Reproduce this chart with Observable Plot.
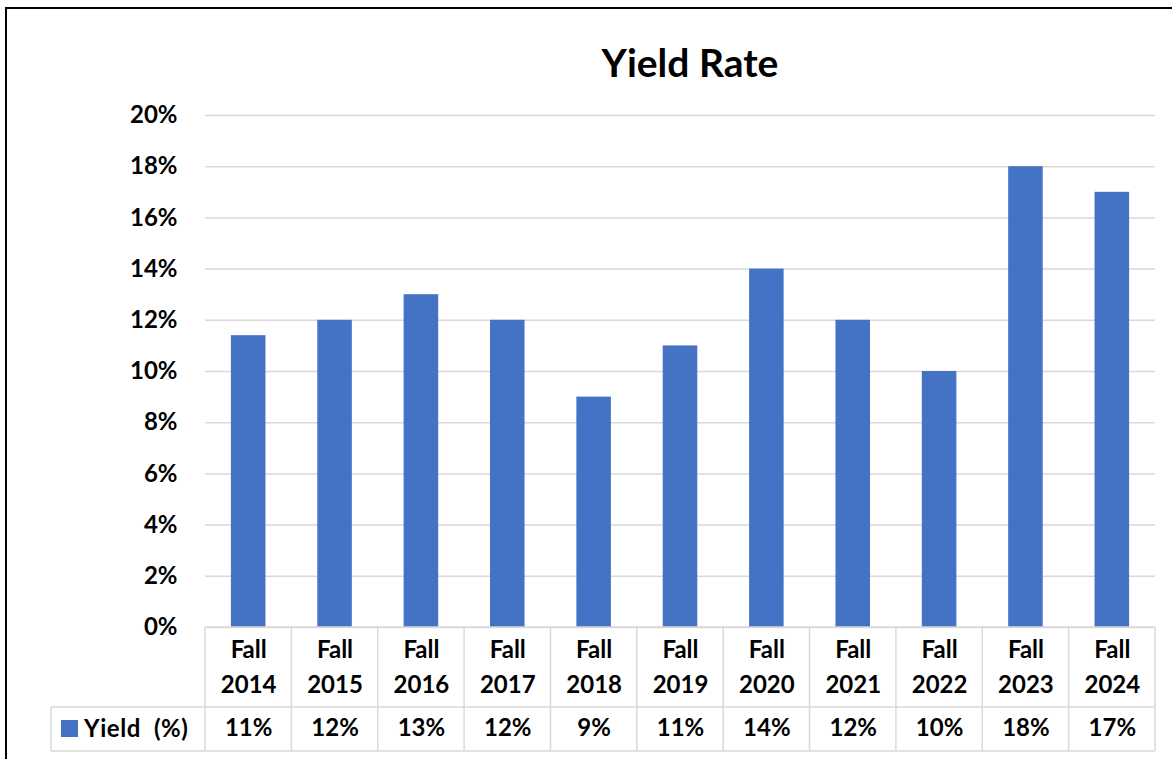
<!DOCTYPE html>
<html>
<head>
<meta charset="utf-8">
<script src="https://cdn.jsdelivr.net/npm/d3@7"></script>
<script src="https://cdn.jsdelivr.net/npm/@observablehq/plot@0.6"></script>
<style>
  html, body { margin: 0; padding: 0; background: #fff; }
  #wrap { position: relative; width: 1172px; height: 759px; overflow: hidden; background: #fff; font-family: Lato, "Open Sans", sans-serif; }
  #frame { position: absolute; left: 5px; top: 7px; width: 3000px; height: 3000px; border: 2px solid #000; box-sizing: border-box; pointer-events: none; }
  #title { position: absolute; top: 43px; left: 690px; transform: translateX(-50%); font-weight: bold; font-size: 39px; color: #000; white-space: nowrap; line-height: 1; }
  #chart { position: absolute; left: 0; top: 0; }
</style>
</head>
<body>
<div id="wrap">
  <div id="chart"></div>
  <div id="title">Yield Rate</div>
  <div id="frame"></div>
</div>
<script>
const categories = ["Fall 2014","Fall 2015","Fall 2016","Fall 2017","Fall 2018","Fall 2019","Fall 2020","Fall 2021","Fall 2022","Fall 2023","Fall 2024"];
const yieldValues = [11.4, 12, 13, 12, 9, 11, 14, 12, 10, 18, 17];
const tableLabels = ["11%","12%","13%","12%","9%","11%","14%","12%","10%","18%","17%"];
const yTicks = [0, 2, 4, 6, 8, 10, 12, 14, 16, 18, 20];
const seriesName = "Yield  (%)";

const data = categories.map((c, i) => ({cat: c, value: yieldValues[i], label: tableLabels[i]}));

const barColor = "#4472C4";
const gridColor = "#d9d9d9";
const fs = 24;

function tableMark(index, scales, values, dims) {
  const x = scales.x;
  const step = x(categories[1]) - x(categories[0]);
  const bw = x.bandwidth ? x.bandwidth() : step * 0.4;
  const off = (step - bw) / 2;
  const bounds = categories.map(c => x(c) - off);
  bounds.push(bounds[bounds.length - 1] + step);
  const top = dims.height - dims.marginBottom;
  const mid = top + 80;
  const bot = top + 124;
  const left = 51;
  const g = d3.create("svg:g");
  const line = (x1, y1, x2, y2) => g.append("line")
    .attr("x1", x1).attr("y1", y1).attr("x2", x2).attr("y2", y2)
    .attr("stroke", gridColor).attr("stroke-width", 1.5);
  bounds.forEach(b => line(b, top, b, bot));
  line(left, mid, left, bot);
  line(bounds[0], top, bounds[bounds.length - 1], top);
  line(left, mid, bounds[bounds.length - 1], mid);
  line(left, bot, bounds[bounds.length - 1], bot);
  g.append("rect").attr("x", 61).attr("y", mid + 13).attr("width", 17).attr("height", 17).attr("fill", barColor);
  g.append("text").attr("x", 84).attr("y", mid + 22).attr("dy", "0.35em")
    .attr("text-anchor", "start").attr("font-size", fs).attr("font-weight", "bold")
    .attr("letter-spacing", "0.6px")
    .style("white-space", "pre").attr("fill", "#000")
    .text(seriesName.replace("  ", "\u00a0\u00a0"));
  return g.node();
}

const chart = Plot.plot({
  width: 1172,
  height: 759,
  marginLeft: 205,
  marginRight: 17,
  marginTop: 115,
  marginBottom: 132,
  style: {fontFamily: "Lato, 'Open Sans', sans-serif", fontSize: fs + "px", fontWeight: "bold", color: "#000", background: "transparent", overflow: "visible"},
  x: {domain: categories, paddingInner: 0.6, paddingOuter: 0.3, round: false, axis: null},
  y: {domain: [0, 20], ticks: yTicks, label: null},
  marks: [
    Plot.gridY(yTicks, {stroke: gridColor, strokeOpacity: 1, strokeWidth: 1.5}),
    Plot.axisY(yTicks, {tickSize: 0, tickPadding: 28, tickFormat: d => d + "%", label: null, fontSize: fs, fontWeight: "bold"}),
    Plot.barY(data, {x: "cat", y: "value", fill: barColor}),
    Plot.text(data, {x: "cat", text: d => d.cat.replace(" ", "\n"), frameAnchor: "bottom", lineAnchor: "middle", dy: 37, lineHeight: 1.45, fontSize: fs, fontWeight: "bold", fill: "#000"}),
    Plot.text(data, {x: "cat", text: "label", frameAnchor: "bottom", lineAnchor: "middle", dy: 101, fontSize: fs, fontWeight: "bold", fill: "#000"}),
    tableMark
  ]
});
document.getElementById("chart").appendChild(chart);
</script>
</body>
</html>
